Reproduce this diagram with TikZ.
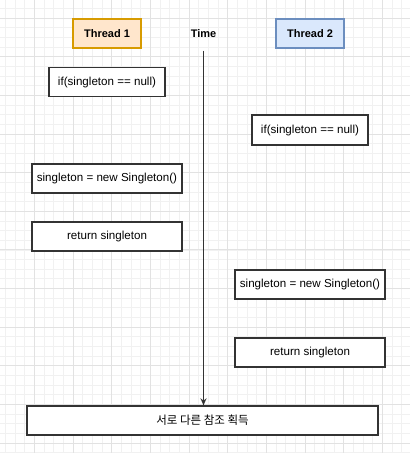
\documentclass[tikz,border=0pt]{standalone}
\usepackage{fontspec}
\setmainfont{Liberation Sans}
\newfontfamily\kofont{Noto Sans CJK KR}
\usepackage{tikz}
\usetikzlibrary{arrows.meta}
\usetikzlibrary{positioning}
\definecolor{orangefill}{HTML}{FFE6CC}
\definecolor{orangeline}{HTML}{D79B00}
\definecolor{bluefill}{HTML}{DAE8FC}
\definecolor{blueline}{HTML}{6C8EBF}
\definecolor{majorgray}{HTML}{E2E2E2}
\definecolor{minorgray}{HTML}{F1F1F1}

\begin{document}
\begin{tikzpicture}[x=1pt, y=-1pt,
        		codebox/.style={draw=black!80, line width=1.3pt, fill=white, inner sep=0pt, minimum height=29pt, font=\fontsize{11.6}{13}\selectfont},
        		thread/.style={line width=1.2pt, inner sep=0pt, minimum width=68pt, minimum height=29pt, font=\fontsize{11}{13}\selectfont\bfseries},
        		every text node part/.style={align=center}]
        		\useasboundingbox (0,0) rectangle (410,453);
        		\fill[white] (0,0) rectangle (410,453);
        		% grid
        		\foreach \i in {-3,...,39} {\draw[minorgray, line width=0.8pt] ({34.5+9.6625*\i},0) -- ++(0,453);}
        		\foreach \i in {-1,...,45} {\draw[minorgray, line width=0.8pt] (0,{18+9.6625*\i}) -- ++(410,0);}
        		\foreach \i in {0,...,9} {\draw[majorgray, line width=0.9pt] ({34.5+38.65*\i},0) -- ++(0,453);}
        		\foreach \i in {0,...,11} {\draw[majorgray, line width=0.9pt] (0,{18+38.65*\i}) -- ++(410,0);}
        		
        		\node[thread, draw=orangeline, fill=orangefill](thread1) at (107, 33.5) {Thread 1};
        		\node[thread](time) at (203.5, 33.5) {Time};
        		\node[thread, draw=blueline, fill=bluefill](thread2) at (310, 33.5) {Thread 2};
        		
        		\node[codebox, minimum width=116pt](checka) at (107, 82) {if(singleton == null)};
        		\node[codebox, minimum width=116pt, minimum height=30pt](checkb) at (310, 130) {if(singleton == null)};
        		\node[codebox, minimum width=150pt](createa) at (107, 178.5) {singleton = new Singleton()};
        		\node[codebox, minimum width=150pt](returna) at (107, 236.5) {return singleton};
        		\node[codebox, minimum width=150pt](createb) at (310, 284.5) {singleton = new Singleton()};
        		\node[codebox, minimum width=150pt](returnb) at (310, 352.5) {return singleton};
        		
        		\node[codebox, minimum width=351pt, font=\kofont\fontsize{11.5}{13}\selectfont](result) at (202.5, 420.5) {서로 다른 참조 획득};
        		
        		\draw[-{Stealth[length=7pt, width=6pt]}, draw=black!80, line width=1.4pt, shorten <=2pt] (time.south) -- (time.south |- result.north);
        	\end{tikzpicture}
\end{document}
